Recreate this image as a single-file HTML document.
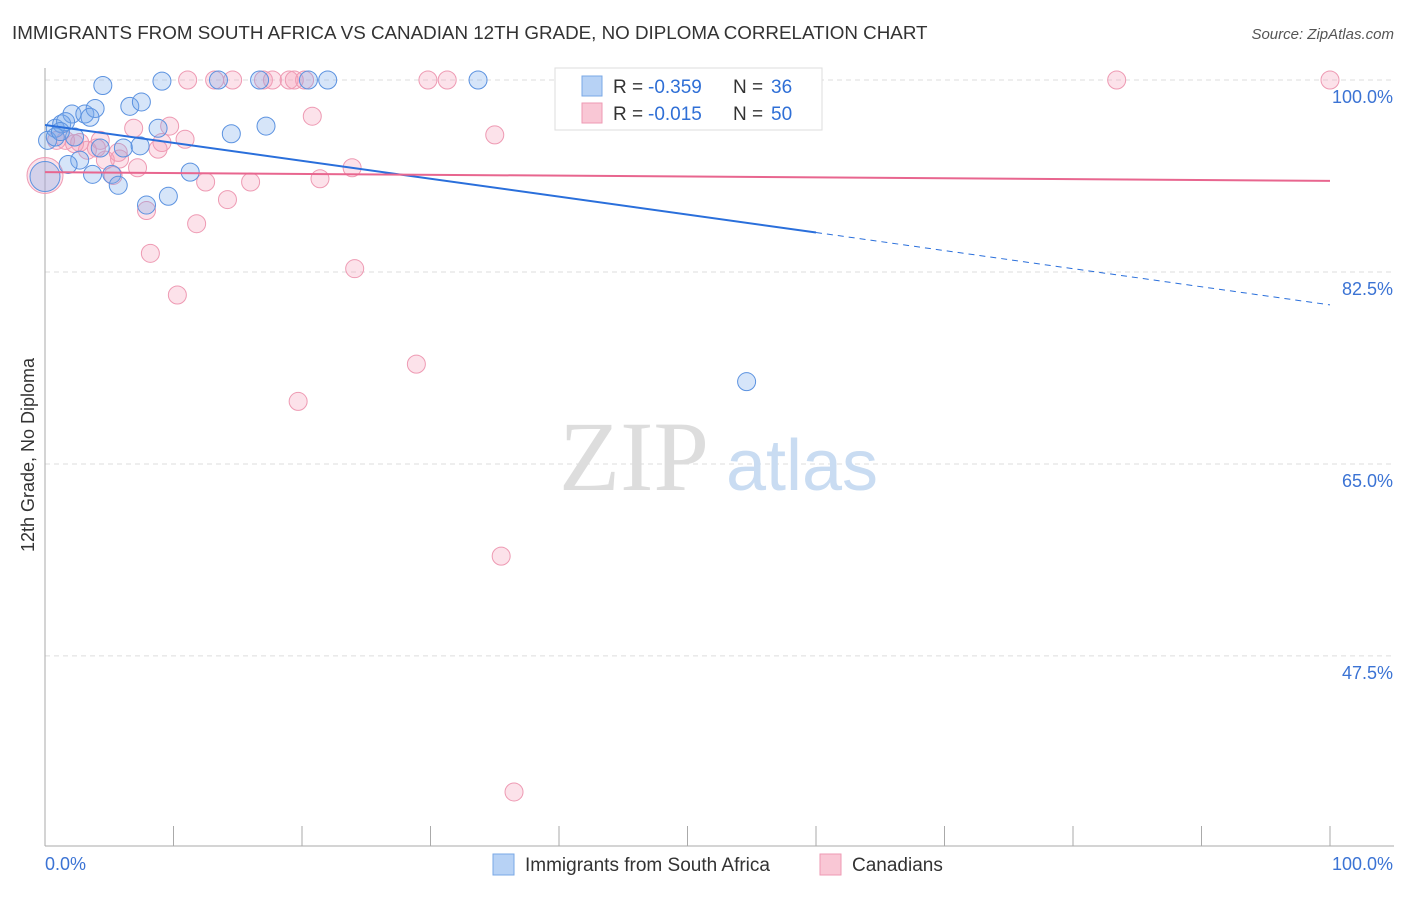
<!DOCTYPE html>
<html><head><meta charset="utf-8"><style>
body{margin:0;background:#fff;font-family:"Liberation Sans",sans-serif;}
</style></head><body>
<svg id="c" width="1406" height="892" xmlns="http://www.w3.org/2000/svg">
<text x="12" y="39" font-size="18.8" fill="#333">IMMIGRANTS FROM SOUTH AFRICA VS CANADIAN 12TH GRADE, NO DIPLOMA CORRELATION CHART</text>
<text x="1394" y="39" font-size="15" fill="#555" font-style="italic" text-anchor="end">Source: ZipAtlas.com</text>
<g id="grid"></g>
<text x="634" y="490" font-size="100" fill="#ddd" font-family="Liberation Serif,serif" text-anchor="middle">ZIP</text>
<text x="802" y="490" font-size="72" fill="#c9dcf2" text-anchor="middle">atlas</text>
<text transform="translate(34,455) rotate(-90)" font-size="18" fill="#333" text-anchor="middle">12th Grade, No Diploma</text>
<g id="pts"></g>
<g id="lines"></g>
<g>
<rect x="555" y="68" width="267" height="62" fill="#fff" stroke="#ddd"/>
<rect x="582" y="76" width="20" height="20" fill="#b7d2f5" stroke="#7aa8e6"/>
<rect x="582" y="103" width="20" height="20" fill="#f9c7d5" stroke="#ee9ab3"/>
<text x="613" y="93" font-size="19" fill="#333">R =</text>
<text x="648" y="93" font-size="19" fill="#2f6fd6">-0.359</text>
<text x="733" y="93" font-size="19" fill="#333">N =</text>
<text x="771" y="93" font-size="19" fill="#2f6fd6">36</text>
<text x="613" y="120" font-size="19" fill="#333">R =</text>
<text x="648" y="120" font-size="19" fill="#2f6fd6">-0.015</text>
<text x="733" y="120" font-size="19" fill="#333">N =</text>
<text x="771" y="120" font-size="19" fill="#2f6fd6">50</text>
</g>
<g>
<rect x="493" y="854" width="21" height="21" fill="#b7d2f5" stroke="#7aa8e6"/>
<text x="525" y="871" font-size="19" fill="#333">Immigrants from South Africa</text>
<rect x="820" y="854" width="21" height="21" fill="#f9c7d5" stroke="#ee9ab3"/>
<text x="852" y="871" font-size="19" fill="#333">Canadians</text>
</g>
</svg>
<script>
const yTicks=[100,82.5,65,47.5];
const yTickLabels=["100.0%","82.5%","65.0%","47.5%"];
const xTickLabels=["0.0%","100.0%"];
const blueX=[4.5,9.1,13.5,16.7,20.5,22,33.7,2.1,3.1,3.9,6.6,7.5,0.8,1.3,1.6,3.5,8.8,14.5,17.2,0.2,0.8,2.3,2.7,1.8,3.7,4.3,5.2,5.7,6.1,7.4,7.9,9.6,11.3,54.6,0,1.2];
const blueY=[99.5,99.9,100,100,100,100,100,96.9,96.9,97.4,97.6,98,95.6,96,96.2,96.6,95.6,95.1,95.8,94.5,94.8,94.8,92.7,92.3,91.4,93.8,91.4,90.4,93.8,94,88.6,89.4,91.6,72.5,91.2,95.3];
const pinkX=[11.1,13.2,14.6,17,17.7,19,19.4,20.2,29.8,31.3,40.9,47.7,83.4,100,20.8,6.9,9.7,10.9,9.1,8.8,4.3,1.6,2.7,3.3,5.8,7.2,4.7,5.3,12.5,16,21.4,23.9,14.2,7.9,11.8,8.2,10.3,24.1,28.9,19.7,35,35.5,36.5,56.6,0,0.9,4,2.3,5.7,57.2];
const pinkY=[100,100,100,100,100,100,100,100,100,100,100,100,100,100,96.7,95.6,95.8,94.6,94.3,93.7,94.5,94.5,94.3,93.6,92.8,92,92.7,91.3,90.7,90.7,91,92,89.1,88.1,86.9,84.2,80.4,82.8,74.1,70.7,95,56.6,35.1,96.9,91.3,94.5,93.8,94.2,93.4,97];
const blueFit=[95.9,86.1,79.5]; const blueFitX=[0,60,100];
const pinkFit=[91.6,90.8]; const pinkFitX=[0,100];
const X=v=>45+v*12.85, Y=v=>80+(100-v)*10.97;
const NS="http://www.w3.org/2000/svg";
function mk(t,a,p){const e=document.createElementNS(NS,t);for(const k in a)e.setAttribute(k,a[k]);p.appendChild(e);return e;}
const g=document.getElementById('grid');
yTicks.forEach((t,i)=>{
 const l=mk('line',{x1:45,x2:1394,y1:Y(t),y2:Y(t),stroke:'#ddd','stroke-dasharray':'5,4'},g);
 
 
 const tx=mk('text',{x:1393,y:Y(t)+23,'font-size':18,fill:'#3b73d4','text-anchor':'end'},g);
 tx.textContent=yTickLabels[i];
 
 
});
mk('line',{x1:45,x2:45,y1:68,y2:846,stroke:'#aaa'},g);
mk('line',{x1:45,x2:1394,y1:846,y2:846,stroke:'#aaa'},g);
for(let i=0;i<=10;i++){const l=mk('line',{x1:X(i*10),x2:X(i*10),y1:826,y2:846,stroke:'#aaa'},g);
 
 }
[[0,45,'start'],[1,1393,'end']].forEach(([i,x,a])=>{const t=mk('text',{x:x,y:870,'font-size':18,fill:'#3b73d4','text-anchor':a},g);t.textContent=xTickLabels[i];
 
 });
const p=document.getElementById('pts');
pinkX.forEach((v,i)=>{const c=mk('circle',{cx:X(v),cy:Y(pinkY[i]),r:(v===0?18:9),fill:'rgba(244,160,185,0.3)',stroke:'#ee9ab3','stroke-width':1},p);
 
 });
blueX.forEach((v,i)=>{const c=mk('circle',{cx:X(v),cy:Y(blueY[i]),r:(v===0?15:9),fill:'rgba(120,170,235,0.3)',stroke:'#5b92e0','stroke-width':1},p);
 
 });
const L=document.getElementById('lines');
const b1=mk('line',{x1:X(blueFitX[0]),y1:Y(blueFit[0]),x2:X(blueFitX[1]),y2:Y(blueFit[1]),stroke:'#2a6fdb','stroke-width':2},L);


const b2=mk('line',{x1:X(blueFitX[1]),y1:Y(blueFit[1]),x2:X(blueFitX[2]),y2:Y(blueFit[2]),stroke:'#2a6fdb','stroke-width':1,'stroke-dasharray':'6,5'},L);


const p1=mk('line',{x1:X(pinkFitX[0]),y1:Y(pinkFit[0]),x2:X(pinkFitX[1]),y2:Y(pinkFit[1]),stroke:'#e8668f','stroke-width':2},L);


</script>
</body></html>
